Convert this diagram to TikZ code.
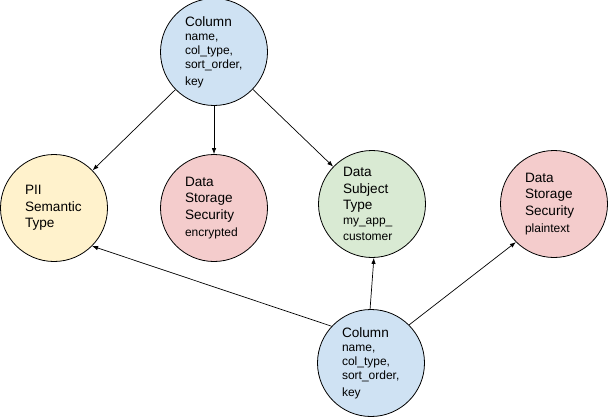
\documentclass[tikz,border=0pt]{standalone}
\usepackage{fontspec}
\setmainfont{Liberation Sans}
\usetikzlibrary{arrows.meta}

\definecolor{colblue}{HTML}{CFE2F3}
\definecolor{piiyellow}{HTML}{FFF2CC}
\definecolor{storered}{HTML}{F4CCCC}
\definecolor{subjgreen}{HTML}{D9EAD3}

\newcommand{\bigtext}{\fontsize{13.6}{16.6}\selectfont}
\newcommand{\smalltext}{\par\vspace{0.5pt}\noindent\fontsize{12}{14}\selectfont}

\tikzset{
  entity/.style={circle, draw=black, line width=0.8pt, minimum size=107pt,
    inner sep=0pt, text width=58pt, align=left, font=\bigtext},
  link/.style={-{Latex[length=6pt,width=4.5pt]}, line width=0.7pt},
}

\begin{document}
\begin{tikzpicture}[x=1pt,y=-1pt]
\useasboundingbox (0,0) rectangle (609,417);
\node[entity, fill=colblue] (topcol) at (214,52) {Column\smalltext name,\\col\_type,\\sort\_order,\\key};
\node[entity, fill=piiyellow] (pii) at (54,208) {PII\\Semantic\\Type};
\node[entity, fill=storered] (encrypted) at (214,208) {Data\\Storage\\Security\smalltext encrypted};
\node[entity, fill=subjgreen] (subject) at (372,204) {Data\\Subject\\Type\smalltext my\_app\_\\customer};
\node[entity, fill=storered] (plaintext) at (554,204) {Data\\Storage\\Security\smalltext plaintext};
\node[entity, fill=colblue] (botcol) at (371,363) {Column\smalltext name,\\col\_type,\\sort\_order,\\key};
\draw[link] (topcol) -- (pii);
\draw[link] (topcol) -- (encrypted);
\draw[link] (topcol) -- (subject);
\draw[link] (botcol.137) -- (pii.-45);
\draw[link] (botcol.91) -- (subject.-88);
\draw[link] (botcol.45) -- (plaintext.225);
\end{tikzpicture}
\end{document}
